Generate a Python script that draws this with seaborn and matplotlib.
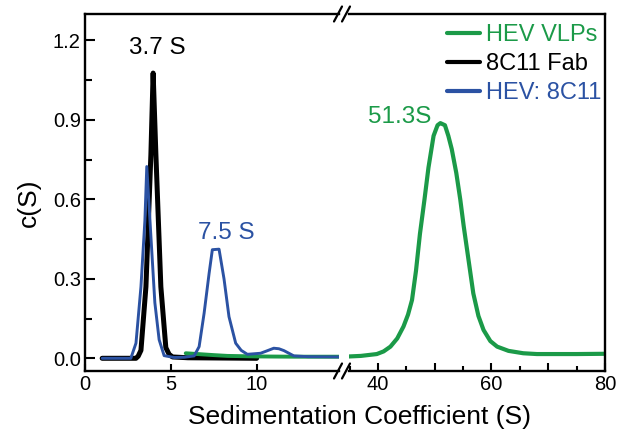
import matplotlib

matplotlib.use("Agg")
import matplotlib.pyplot as plt
import seaborn as sns
from matplotlib.lines import Line2D
from matplotlib.ticker import FuncFormatter, MultipleLocator

# 8C11 Fab alone (left panel only)
fab_s = [1.0, 2.0, 2.97, 3.1, 3.26, 3.55, 3.84, 3.97, 4.13, 4.42, 4.71, 4.9, 5.1, 6.0, 8.0, 10.0]
fab_c = [0.0, 0.0, 0.0, 0.008, 0.03, 0.27, 0.77, 1.077, 0.77, 0.27, 0.04, 0.015, 0.005, 0.002, 0.001, 0.0]

# HEV : 8C11 complex (left panel only)
cpx_s = [1.0, 2.67, 2.97, 3.26, 3.49, 3.60, 3.84, 4.07, 4.32, 4.61, 5.19, 5.8, 6.36, 6.65,
         6.94, 7.23, 7.42, 7.81, 8.10, 8.39, 8.78, 9.1, 9.46, 10.23, 10.6, 11.0, 11.3,
         11.59, 12.17, 13.0, 15.0]
cpx_c = [0.0, 0.0, 0.057, 0.27, 0.52, 0.724, 0.46, 0.21, 0.07, 0.01, 0.003, 0.004, 0.009, 0.044,
         0.17, 0.32, 0.41, 0.412, 0.30, 0.157, 0.057, 0.03, 0.015, 0.019, 0.028, 0.038, 0.036,
         0.029, 0.009, 0.006, 0.005]

# HEV VLPs, low-S tail (left) and main peak (right)
vlp_lo_s = [5.87, 7.5, 8.3, 10.0, 12.2, 15.0]
vlp_lo_c = [0.019, 0.012, 0.009, 0.007, 0.006, 0.006]
vlp_hi_s = [34.0, 37.0, 39.8, 41.0, 42.2, 43.4, 44.5, 45.3, 46.0, 46.7, 47.4, 48.2, 48.9, 49.8,
            50.5, 51.0, 51.8, 52.4, 53.0, 53.8, 54.5, 55.1, 55.7, 56.3, 56.8, 57.7, 58.6,
            59.8, 61.0, 63.0, 65.6, 68.0, 71.5, 75.0, 80.0]
vlp_hi_c = [0.006, 0.009, 0.016, 0.026, 0.044, 0.075, 0.12, 0.165, 0.22, 0.33, 0.47, 0.60, 0.72,
            0.84, 0.88, 0.888, 0.88, 0.84, 0.79, 0.70, 0.60, 0.50, 0.41, 0.32, 0.245, 0.16,
            0.107, 0.065, 0.044, 0.028, 0.019, 0.016, 0.016, 0.016, 0.017]

GREEN = "#1b9a48"
BLUE = "#2b52a3"
BLACK = "#000000"

sns.set_theme(style="ticks")
plt.rcParams["font.family"] = ["Liberation Sans", "DejaVu Sans"]
plt.rcParams.update({
    "axes.linewidth": 1.7,
    "axes.edgecolor": "black",
    "text.color": "black",
    "xtick.color": "black",
    "ytick.color": "black",
    "xtick.direction": "in",
    "ytick.direction": "in",
    "xtick.major.width": 1.5,
    "ytick.major.width": 1.5,
    "xtick.minor.width": 1.5,
    "ytick.minor.width": 1.5,
    "xtick.labelsize": 14.5,
    "ytick.labelsize": 14.5,
})

W, H = 623, 437
fig = plt.figure(figsize=(W / 100, H / 100), dpi=100)
bottom, height = 1 - 371 / H, (371 - 14) / H
ax1 = fig.add_axes([85 / W, bottom, (339 - 85) / W, height])
ax2 = fig.add_axes([349 / W, bottom, (605 - 349) / W, height])

sns.lineplot(x=fab_s, y=fab_c, ax=ax1, color=BLACK, lw=3.6, zorder=2)
sns.lineplot(x=vlp_lo_s, y=vlp_lo_c, ax=ax1, color=GREEN, lw=2.8, zorder=3)
sns.lineplot(x=cpx_s, y=cpx_c, ax=ax1, color=BLUE, lw=2.1, zorder=4)
sns.lineplot(x=vlp_hi_s, y=vlp_hi_c, ax=ax2, color=GREEN, lw=3.0)

for ax in (ax1, ax2):
    ax.set_ylim(-0.048, 1.3)
    ax.set_xlabel("")
    ax.set_ylabel("")
ax1.set_xlim(0, 14.8)
ax2.set_xlim(34.9, 80)

ax1.spines["right"].set_visible(False)
ax2.spines["left"].set_visible(False)

ax1.xaxis.set_major_locator(MultipleLocator(5))
ax1.yaxis.set_major_locator(MultipleLocator(0.3))
ax1.yaxis.set_minor_locator(MultipleLocator(0.15))
ax1.yaxis.set_major_formatter(FuncFormatter(lambda v, p: f"{v:.1f}"))
ax1.tick_params(axis="y", which="major", length=7, pad=3)
ax1.tick_params(axis="y", which="minor", length=5)
ax1.tick_params(axis="x", which="major", length=5, pad=3)

ax2.set_yticks([])
ax2.xaxis.set_major_locator(MultipleLocator(10))
ax2.xaxis.set_minor_locator(MultipleLocator(5))
ax2.xaxis.set_major_formatter(FuncFormatter(lambda v, p: f"{v:.0f}" if v % 20 == 0 else ""))
ax2.tick_params(axis="x", which="major", length=6, pad=3)
ax2.tick_params(axis="x", which="minor", length=3.5)

# peak labels
ax1.text(4.24, 1.172, "3.7 S", color=BLACK, fontsize=17.5, ha="center", va="center")
ax1.text(8.26, 0.473, "7.5 S", color=BLUE, fontsize=17.5, ha="center", va="center")
ax2.text(43.8, 0.912, "51.3S", color=GREEN, fontsize=17.5, ha="center", va="center")

handles = [Line2D([], [], color=c, lw=3) for c in (GREEN, BLACK, BLUE)]
ax2.legend(handles, ["HEV VLPs", "8C11 Fab", "HEV: 8C11"], loc="upper right",
           bbox_to_anchor=(1.025, 1.0), frameon=False, fontsize=17, labelcolor="linecolor",
           handlelength=1.4, handletextpad=0.25, labelspacing=0.3, borderaxespad=0.28,
           borderpad=0.15)

# axis break marks
for ypx in (14, 371):
    for xpx in (338, 346):
        fig.add_artist(Line2D([(xpx - 4) / W, (xpx + 4) / W],
                              [1 - (ypx + 7.5) / H, 1 - (ypx - 7.5) / H],
                              transform=fig.transFigure, color="black", lw=1.6))

fig.text(359 / W, 1 - 417 / H, "Sedimentation Coefficient (S)", fontsize=19,
         ha="center", va="center")
fig.text(29 / W, 1 - 203 / H, "c(S)", fontsize=19, rotation=90, ha="center", va="center")

fig.savefig("out.png", dpi=100)
